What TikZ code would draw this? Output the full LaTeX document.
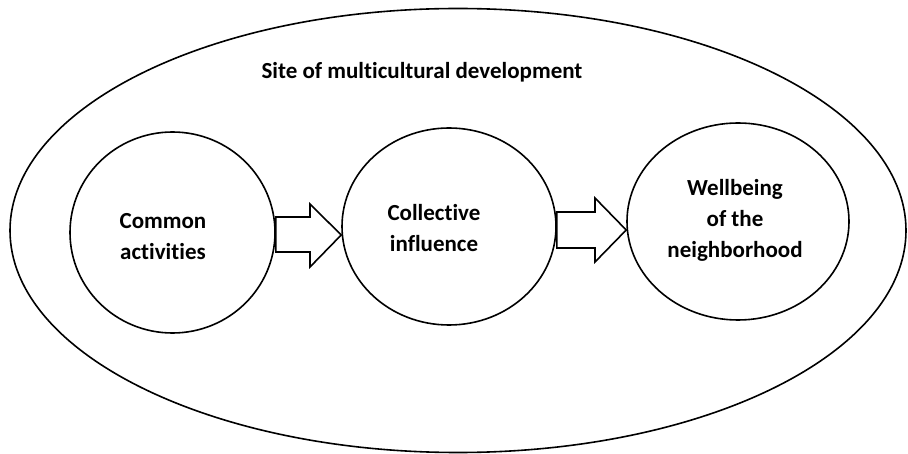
\documentclass[tikz,border=0pt]{standalone}
\usepackage{fontspec}
\setmainfont{Carlito}[RawFeature={-liga;-clig}]
\usetikzlibrary{shapes.geometric,calc}
\begin{document}
\begin{tikzpicture}[x=1pt,y=-1pt,
  lw/.style={line width=1.6pt},
  oval/.style={ellipse,draw,lw,inner sep=0pt},
  lbl/.style={font=\fontsize{23}{31}\selectfont\bfseries,align=center,inner sep=0pt},
  blockarrow/.style={draw,lw,line join=miter,fill=white}]
\useasboundingbox (0,0) rectangle (908,454);
\node[oval,minimum width=896pt,minimum height=444pt] (site) at (458,230.5) {};
\node[lbl] (title) at (422,72) {Site of multicultural development};
\node[oval,minimum width=205pt,minimum height=201pt] (c1) at (172.5,232.5) {};
\node[oval,minimum width=214pt,minimum height=197pt] (c2) at (449,226.5) {};
\node[oval,minimum width=222pt,minimum height=197pt] (c3) at (738,221.5) {};
\node[lbl] (t1) at (163,237) {Common\\activities};
\node[lbl] (t2) at (434,228) {Collective\\influence};
\node[lbl] (t3) at (735,220) {Wellbeing\\of the\\neighborhood};
% arrow c1 -> c2
\draw[blockarrow] (c1.east |- 0,217) -- (310,217) -- (310,204) -- (c2.west |- 0,235)
  -- (310,267) -- (310,252) -- (c1.east |- 0,252) -- cycle;
% arrow c2 -> c3
\draw[blockarrow] (c2.east |- 0,212) -- (595,212) -- (595,198) -- (c3.west |- 0,230)
  -- (595,262) -- (595,248) -- (c2.east |- 0,248) -- cycle;
\end{tikzpicture}
\end{document}
